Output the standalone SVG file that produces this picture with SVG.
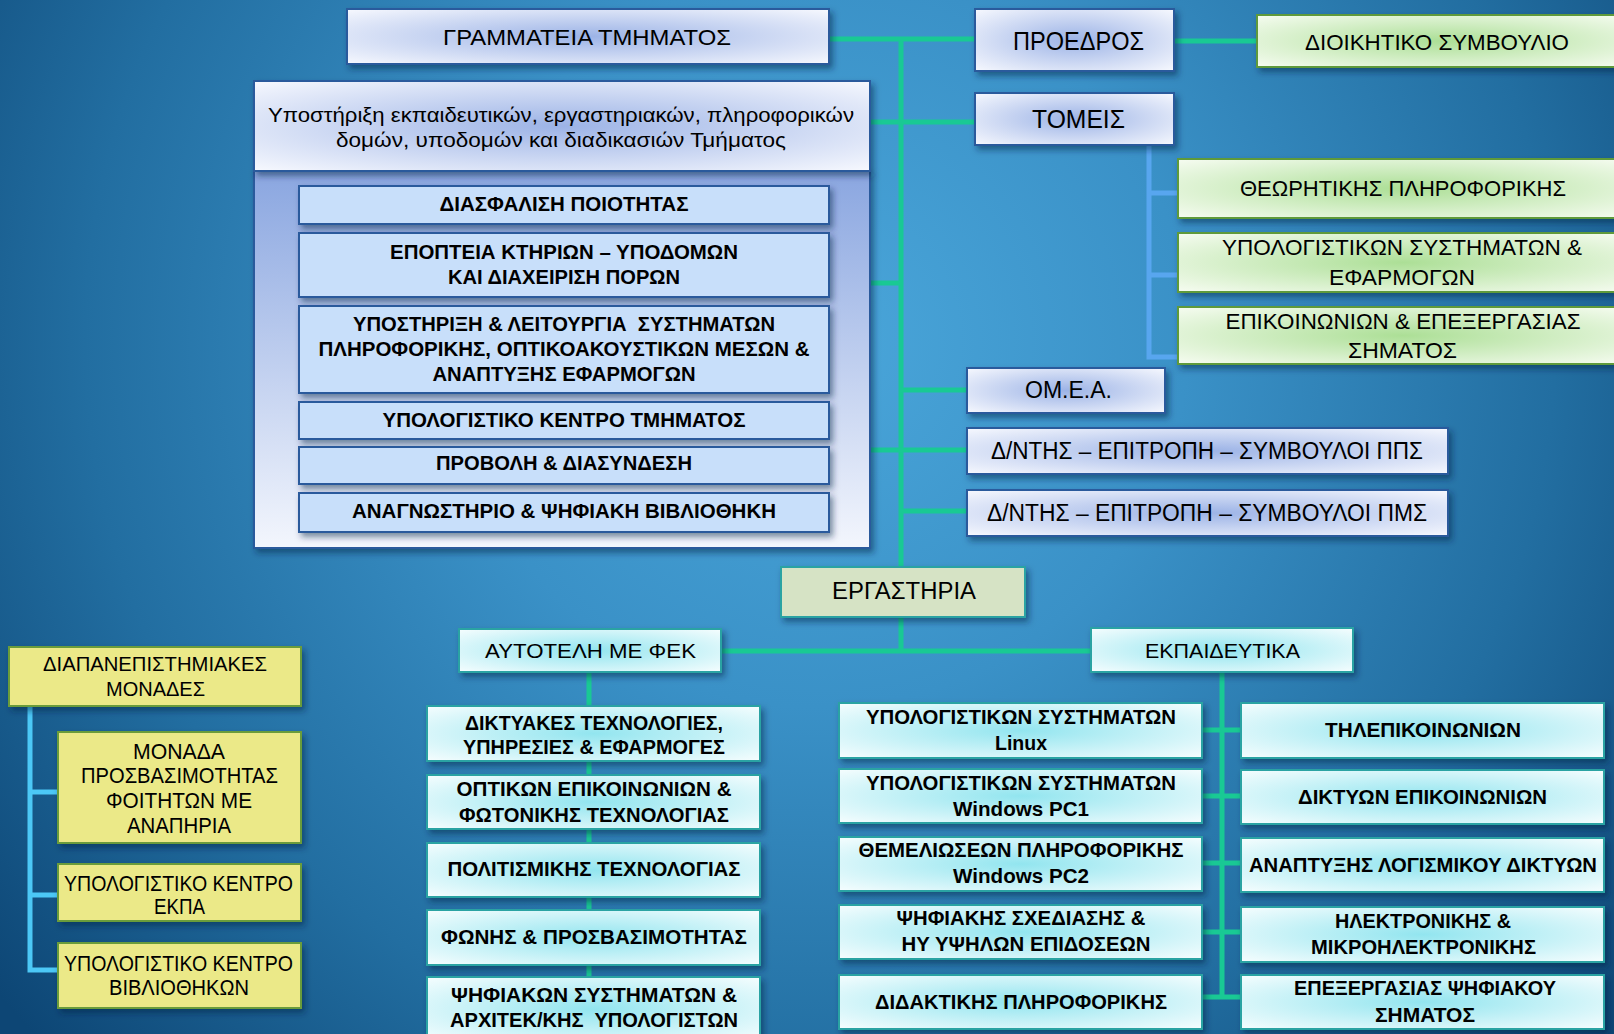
<svg xmlns="http://www.w3.org/2000/svg" width="1614" height="1034" viewBox="0 0 1614 1034">
<defs>
<radialGradient id="bg" gradientUnits="userSpaceOnUse" cx="820" cy="340" r="1050">
<stop offset="0" stop-color="#4aa6da"/>
<stop offset="0.35" stop-color="#3a91c7"/>
<stop offset="0.7" stop-color="#226ea1"/>
<stop offset="1" stop-color="#0d4675"/>
</radialGradient>
<radialGradient id="gBlue" cx="0.5" cy="0.5" r="0.7">
<stop offset="0" stop-color="#9cb3e6"/>
<stop offset="1" stop-color="#f6f8fe"/>
</radialGradient>
<radialGradient id="gGreen" cx="0.5" cy="0.5" r="0.7">
<stop offset="0" stop-color="#acdf96"/>
<stop offset="1" stop-color="#f6fcf1"/>
</radialGradient>
<radialGradient id="gCyan" cx="0.5" cy="0.5" r="0.7">
<stop offset="0" stop-color="#92e5ef"/>
<stop offset="1" stop-color="#f5fdfe"/>
</radialGradient>
<linearGradient id="gPanel" x1="0" y1="0" x2="0" y2="1">
<stop offset="0" stop-color="#8aa6e0"/>
<stop offset="1" stop-color="#f3f6fd"/>
</linearGradient>
<filter id="sh" x="-10%" y="-20%" width="125%" height="150%">
<feDropShadow dx="3" dy="4" stdDeviation="3" flood-color="#06223f" flood-opacity="0.5"/>
</filter>
<style>
.t{font-family:"Liberation Sans","DejaVu Sans",sans-serif;fill:#000;text-anchor:middle}
.b{font-weight:bold}
.nb{fill:url(#gBlue);stroke:#2a5a9c;stroke-width:2;filter:url(#sh)}
.ng{fill:url(#gGreen);stroke:#5f9a3a;stroke-width:2;filter:url(#sh)}
.nc{fill:url(#gCyan);stroke:#2aa3a3;stroke-width:2;filter:url(#sh)}
.ni{fill:#c8dffa;stroke:#2a5a9c;stroke-width:2;filter:url(#sh)}
.ny{fill:#ebe988;stroke:#6a9c3a;stroke-width:2;filter:url(#sh)}
.ne{fill:#d6e3c5;stroke:#2aa3a3;stroke-width:2;filter:url(#sh)}
.cg{fill:none;stroke:#19c994;stroke-width:5}
.cb{fill:none;stroke:#58a6ef;stroke-width:5}
.cy{fill:none;stroke:#4cc8f6;stroke-width:5}
.f20{font-size:20px}.f21{font-size:21px}.f22{font-size:22px}.f23{font-size:23px}.f26{font-size:26px}
</style>
</defs>
<rect x="0" y="0" width="1614" height="1034" fill="url(#bg)"/>

<g id="connectors">
<path class="cg" d="M901 38 V651"/>
<path class="cg" d="M829 39 H976"/>
<path class="cg" d="M1174 41 H1257"/>
<path class="cg" d="M870 122 H976"/>
<path class="cg" d="M870 283 H901"/>
<path class="cg" d="M901 390 H967"/>
<path class="cg" d="M870 450 H967"/>
<path class="cg" d="M901 511 H967"/>
<path class="cg" d="M721 651 H1091"/>
<path class="cg" d="M589 672 V1034"/>
<path class="cg" d="M1222 672 V997"/>
<path class="cg" d="M1202 730 H1241 M1202 796 H1241 M1202 863 H1241 M1202 932 H1241 M1202 997 H1241"/>
<path class="cb" d="M1149 145 V357 H1178 M1149 193 H1178 M1149 275 H1178"/>
<path class="cy" d="M30 706 V970 H58 M30 792 H58 M30 895 H58"/>
</g>

<g id="grammateia">
<rect class="nb" x="347" y="9" width="482" height="55"/>
<text class="t f22" x="587" y="45" textLength="288" lengthAdjust="spacingAndGlyphs">ΓΡΑΜΜΑΤΕΙΑ ΤΜΗΜΑΤΟΣ</text>
</g>

<g id="ypostirixi">
<rect x="254" y="171" width="616" height="377" fill="url(#gPanel)" stroke="#2a5a9c" stroke-width="2" filter="url(#sh)"/>
<rect class="nb" x="254" y="81" width="616" height="90"/>
<text class="t f20" x="561" y="122" textLength="586" lengthAdjust="spacingAndGlyphs">Υποστήριξη εκπαιδευτικών, εργαστηριακών, πληροφορικών</text>
<text class="t f20" x="561" y="147" textLength="450" lengthAdjust="spacingAndGlyphs">δομών, υποδομών και διαδικασιών Τμήματος</text>
</g>

<g id="diasfalisi">
<rect class="ni" x="299" y="186" width="530" height="38"/>
<text class="t b f20" x="564" y="211" textLength="249" lengthAdjust="spacingAndGlyphs">ΔΙΑΣΦΑΛΙΣΗ ΠΟΙΟΤΗΤΑΣ</text>
</g>
<g id="epopteia">
<rect class="ni" x="299" y="233" width="530" height="64"/>
<text class="t b f20" x="564" y="259" textLength="348" lengthAdjust="spacingAndGlyphs">ΕΠΟΠΤΕΙΑ ΚΤΗΡΙΩΝ – ΥΠΟΔΟΜΩΝ</text>
<text class="t b f20" x="564" y="284" textLength="232" lengthAdjust="spacingAndGlyphs">ΚΑΙ ΔΙΑΧΕΙΡΙΣΗ ΠΟΡΩΝ</text>
</g>
<g id="ypostirixi-leitourgia">
<rect class="ni" x="299" y="306" width="530" height="87"/>
<text class="t b f20" x="564" y="331" textLength="422" lengthAdjust="spacingAndGlyphs" style="white-space:pre">ΥΠΟΣΤΗΡΙΞΗ &amp; ΛΕΙΤΟΥΡΓΙΑ  ΣΥΣΤΗΜΑΤΩΝ</text>
<text class="t b f20" x="564" y="356" textLength="491" lengthAdjust="spacingAndGlyphs">ΠΛΗΡΟΦΟΡΙΚΗΣ, ΟΠΤΙΚΟΑΚΟΥΣΤΙΚΩΝ ΜΕΣΩΝ &amp;</text>
<text class="t b f20" x="564" y="381" textLength="263" lengthAdjust="spacingAndGlyphs">ΑΝΑΠΤΥΞΗΣ ΕΦΑΡΜΟΓΩΝ</text>
</g>
<g id="ypologistiko-kentro">
<rect class="ni" x="299" y="402" width="530" height="37"/>
<text class="t b f20" x="564" y="427" textLength="363" lengthAdjust="spacingAndGlyphs">ΥΠΟΛΟΓΙΣΤΙΚΟ ΚΕΝΤΡΟ ΤΜΗΜΑΤΟΣ</text>
</g>
<g id="provoli">
<rect class="ni" x="299" y="447" width="530" height="37"/>
<text class="t b f20" x="564" y="470" textLength="256" lengthAdjust="spacingAndGlyphs">ΠΡΟΒΟΛΗ &amp; ΔΙΑΣΥΝΔΕΣΗ</text>
</g>
<g id="anagnostirio">
<rect class="ni" x="299" y="493" width="530" height="39"/>
<text class="t b f20" x="564" y="518" textLength="424" lengthAdjust="spacingAndGlyphs">ΑΝΑΓΝΩΣΤΗΡΙΟ &amp; ΨΗΦΙΑΚΗ ΒΙΒΛΙΟΘΗΚΗ</text>
</g>

<g id="proedros">
<rect class="nb" x="975" y="9" width="199" height="62"/>
<text class="t f26" x="1078.5" y="50" textLength="131" lengthAdjust="spacingAndGlyphs">ΠΡΟΕΔΡΟΣ</text>
</g>
<g id="dioikitiko">
<rect class="ng" x="1257" y="15" width="370" height="52"/>
<text class="t f22" x="1437" y="50" textLength="264" lengthAdjust="spacingAndGlyphs">ΔΙΟΙΚΗΤΙΚΟ ΣΥΜΒΟΥΛΙΟ</text>
</g>
<g id="tomeis">
<rect class="nb" x="975" y="93" width="199" height="52"/>
<text class="t f26" x="1078.5" y="128" textLength="93" lengthAdjust="spacingAndGlyphs">ΤΟΜΕΙΣ</text>
</g>
<g id="theoritikis">
<rect class="ng" x="1178" y="159" width="450" height="59"/>
<text class="t f22" x="1403" y="196" textLength="326" lengthAdjust="spacingAndGlyphs">ΘΕΩΡΗΤΙΚΗΣ ΠΛΗΡΟΦΟΡΙΚΗΣ</text>
</g>
<g id="ypologistikon-efarmogon">
<rect class="ng" x="1178" y="233" width="450" height="59"/>
<text class="t f22" x="1402" y="255" textLength="360" lengthAdjust="spacingAndGlyphs">ΥΠΟΛΟΓΙΣΤΙΚΩΝ ΣΥΣΤΗΜΑΤΩΝ &amp;</text>
<text class="t f22" x="1402" y="285" textLength="146" lengthAdjust="spacingAndGlyphs">ΕΦΑΡΜΟΓΩΝ</text>
</g>
<g id="epikoinonion">
<rect class="ng" x="1178" y="307" width="450" height="57"/>
<text class="t f22" x="1403" y="329" textLength="355" lengthAdjust="spacingAndGlyphs">ΕΠΙΚΟΙΝΩΝΙΩΝ &amp; ΕΠΕΞΕΡΓΑΣΙΑΣ</text>
<text class="t f22" x="1402.5" y="358" textLength="109" lengthAdjust="spacingAndGlyphs">ΣΗΜΑΤΟΣ</text>
</g>
<g id="omea">
<rect class="nb" x="967" y="368" width="198" height="45"/>
<text class="t f23" x="1068.5" y="398" textLength="87" lengthAdjust="spacingAndGlyphs">ΟΜ.Ε.Α.</text>
</g>
<g id="pps">
<rect class="nb" x="967" y="428" width="481" height="46"/>
<text class="t f23" x="1207" y="459" textLength="432" lengthAdjust="spacingAndGlyphs">Δ/ΝΤΗΣ – ΕΠΙΤΡΟΠΗ – ΣΥΜΒΟΥΛΟΙ ΠΠΣ</text>
</g>
<g id="pms">
<rect class="nb" x="967" y="490" width="481" height="46"/>
<text class="t f23" x="1207" y="521" textLength="440" lengthAdjust="spacingAndGlyphs">Δ/ΝΤΗΣ – ΕΠΙΤΡΟΠΗ – ΣΥΜΒΟΥΛΟΙ ΠΜΣ</text>
</g>

<g id="ergastiria">
<rect class="ne" x="781" y="567" width="244" height="50"/>
<text class="t f23" x="904" y="599" textLength="144" lengthAdjust="spacingAndGlyphs">ΕΡΓΑΣΤΗΡΙΑ</text>
</g>
<g id="autoteli">
<rect class="nc" x="459" y="629" width="262" height="43"/>
<text class="t f21" x="590.5" y="658" textLength="211" lengthAdjust="spacingAndGlyphs">ΑΥΤΟΤΕΛΗ ΜΕ ΦΕΚ</text>
</g>
<g id="ekpaideutika">
<rect class="nc" x="1091" y="628" width="262" height="44"/>
<text class="t f21" x="1222.5" y="658" textLength="155" lengthAdjust="spacingAndGlyphs">ΕΚΠΑΙΔΕΥΤΙΚΑ</text>
</g>

<g id="diktyakes">
<rect class="nc" x="427" y="706" width="333" height="55"/>
<text class="t b f21" x="594" y="730" textLength="258" lengthAdjust="spacingAndGlyphs">ΔΙΚΤΥΑΚΕΣ ΤΕΧΝΟΛΟΓΙΕΣ,</text>
<text class="t b f21" x="594" y="754" textLength="262" lengthAdjust="spacingAndGlyphs">ΥΠΗΡΕΣΙΕΣ &amp; ΕΦΑΡΜΟΓΕΣ</text>
</g>
<g id="optikon">
<rect class="nc" x="427" y="775" width="333" height="54"/>
<text class="t b f21" x="594" y="796" textLength="275" lengthAdjust="spacingAndGlyphs">ΟΠΤΙΚΩΝ ΕΠΙΚΟΙΝΩΝΙΩΝ &amp;</text>
<text class="t b f21" x="594" y="822" textLength="270" lengthAdjust="spacingAndGlyphs">ΦΩΤΟΝΙΚΗΣ ΤΕΧΝΟΛΟΓΙΑΣ</text>
</g>
<g id="politismikis">
<rect class="nc" x="427" y="843" width="333" height="54"/>
<text class="t b f21" x="594" y="876" textLength="293" lengthAdjust="spacingAndGlyphs">ΠΟΛΙΤΙΣΜΙΚΗΣ ΤΕΧΝΟΛΟΓΙΑΣ</text>
</g>
<g id="fonis">
<rect class="nc" x="427" y="910" width="333" height="55"/>
<text class="t b f21" x="594" y="944" textLength="306" lengthAdjust="spacingAndGlyphs">ΦΩΝΗΣ &amp; ΠΡΟΣΒΑΣΙΜΟΤΗΤΑΣ</text>
</g>
<g id="psifiakon-systimaton">
<rect class="nc" x="427" y="977" width="333" height="64"/>
<text class="t b f21" x="594" y="1002" textLength="286" lengthAdjust="spacingAndGlyphs">ΨΗΦΙΑΚΩΝ ΣΥΣΤΗΜΑΤΩΝ &amp;</text>
<text class="t b f21" x="594" y="1027" textLength="288" lengthAdjust="spacingAndGlyphs" style="white-space:pre">ΑΡΧΙΤΕΚ/ΚΗΣ  ΥΠΟΛΟΓΙΣΤΩΝ</text>
</g>

<g id="linux">
<rect class="nc" x="839" y="703" width="363" height="55"/>
<text class="t b f21" x="1021" y="724" textLength="310" lengthAdjust="spacingAndGlyphs">ΥΠΟΛΟΓΙΣΤΙΚΩΝ ΣΥΣΤΗΜΑΤΩΝ</text>
<text class="t b f21" x="1021" y="750" textLength="52" lengthAdjust="spacingAndGlyphs">Linux</text>
</g>
<g id="windows-pc1">
<rect class="nc" x="839" y="769" width="363" height="54"/>
<text class="t b f21" x="1021" y="790" textLength="310" lengthAdjust="spacingAndGlyphs">ΥΠΟΛΟΓΙΣΤΙΚΩΝ ΣΥΣΤΗΜΑΤΩΝ</text>
<text class="t b f21" x="1021" y="816" textLength="136" lengthAdjust="spacingAndGlyphs">Windows PC1</text>
</g>
<g id="themelioseon">
<rect class="nc" x="839" y="837" width="363" height="54"/>
<text class="t b f21" x="1021" y="857" textLength="325" lengthAdjust="spacingAndGlyphs">ΘΕΜΕΛΙΩΣΕΩΝ ΠΛΗΡΟΦΟΡΙΚΗΣ</text>
<text class="t b f21" x="1021" y="883" textLength="136" lengthAdjust="spacingAndGlyphs">Windows PC2</text>
</g>
<g id="psifiakis-sxediasis">
<rect class="nc" x="839" y="905" width="363" height="54"/>
<text class="t b f21" x="1021" y="925" textLength="249" lengthAdjust="spacingAndGlyphs">ΨΗΦΙΑΚΗΣ ΣΧΕΔΙΑΣΗΣ &amp;</text>
<text class="t b f21" x="1026" y="951" textLength="249" lengthAdjust="spacingAndGlyphs">ΗΥ ΥΨΗΛΩΝ ΕΠΙΔΟΣΕΩΝ</text>
</g>
<g id="didaktikis">
<rect class="nc" x="839" y="975" width="363" height="54"/>
<text class="t b f21" x="1021" y="1009" textLength="292" lengthAdjust="spacingAndGlyphs">ΔΙΔΑΚΤΙΚΗΣ ΠΛΗΡΟΦΟΡΙΚΗΣ</text>
</g>

<g id="tilepikoinonion">
<rect class="nc" x="1241" y="703" width="363" height="55"/>
<text class="t b f21" x="1423" y="737" textLength="196" lengthAdjust="spacingAndGlyphs">ΤΗΛΕΠΙΚΟΙΝΩΝΙΩΝ</text>
</g>
<g id="diktyon">
<rect class="nc" x="1241" y="770" width="363" height="54"/>
<text class="t b f21" x="1422.5" y="804" textLength="249" lengthAdjust="spacingAndGlyphs">ΔΙΚΤΥΩΝ ΕΠΙΚΟΙΝΩΝΙΩΝ</text>
</g>
<g id="anaptyxis-logismikou">
<rect class="nc" x="1241" y="838" width="363" height="54"/>
<text class="t b f21" x="1423" y="872" textLength="348" lengthAdjust="spacingAndGlyphs">ΑΝΑΠΤΥΞΗΣ ΛΟΓΙΣΜΙΚΟΥ ΔΙΚΤΥΩΝ</text>
</g>
<g id="ilektronikis">
<rect class="nc" x="1241" y="907" width="363" height="55"/>
<text class="t b f21" x="1423" y="928" textLength="176" lengthAdjust="spacingAndGlyphs">ΗΛΕΚΤΡΟΝΙΚΗΣ &amp;</text>
<text class="t b f21" x="1423.5" y="954" textLength="225" lengthAdjust="spacingAndGlyphs">ΜΙΚΡΟΗΛΕΚΤΡΟΝΙΚΗΣ</text>
</g>
<g id="epexergasias-psifiakou">
<rect class="nc" x="1241" y="975" width="363" height="54"/>
<text class="t b f21" x="1425" y="995" textLength="262" lengthAdjust="spacingAndGlyphs">ΕΠΕΞΕΡΓΑΣΙΑΣ ΨΗΦΙΑΚΟΥ</text>
<text class="t b f21" x="1425" y="1022" textLength="100" lengthAdjust="spacingAndGlyphs">ΣΗΜΑΤΟΣ</text>
</g>

<g id="diapanepistimiakes">
<rect class="ny" x="9" y="647" width="292" height="59"/>
<text class="t f21" x="155" y="671" textLength="224" lengthAdjust="spacingAndGlyphs">ΔΙΑΠΑΝΕΠΙΣΤΗΜΙΑΚΕΣ</text>
<text class="t f21" x="155.5" y="696" textLength="99" lengthAdjust="spacingAndGlyphs">ΜΟΝΑΔΕΣ</text>
</g>
<g id="monada-prosvasimotitas">
<rect class="ny" x="58" y="732" width="243" height="111"/>
<text class="t f22" x="179" y="759" textLength="92" lengthAdjust="spacingAndGlyphs">ΜΟΝΑΔΑ</text>
<text class="t f22" x="179.5" y="783" textLength="197" lengthAdjust="spacingAndGlyphs">ΠΡΟΣΒΑΣΙΜΟΤΗΤΑΣ</text>
<text class="t f22" x="179" y="808" textLength="146" lengthAdjust="spacingAndGlyphs">ΦΟΙΤΗΤΩΝ ΜΕ</text>
<text class="t f22" x="179" y="833" textLength="104" lengthAdjust="spacingAndGlyphs">ΑΝΑΠΗΡΙΑ</text>
</g>
<g id="kentro-ekpa">
<rect class="ny" x="58" y="864" width="243" height="57"/>
<text class="t f22" x="178.5" y="891" textLength="229" lengthAdjust="spacingAndGlyphs">ΥΠΟΛΟΓΙΣΤΙΚΟ ΚΕΝΤΡΟ</text>
<text class="t f22" x="179.5" y="914" textLength="51" lengthAdjust="spacingAndGlyphs">ΕΚΠΑ</text>
</g>
<g id="kentro-vivliothikon">
<rect class="ny" x="58" y="943" width="243" height="65"/>
<text class="t f22" x="178.5" y="971" textLength="229" lengthAdjust="spacingAndGlyphs">ΥΠΟΛΟΓΙΣΤΙΚΟ ΚΕΝΤΡΟ</text>
<text class="t f22" x="179" y="995" textLength="140" lengthAdjust="spacingAndGlyphs">ΒΙΒΛΙΟΘΗΚΩΝ</text>
</g>
</svg>
